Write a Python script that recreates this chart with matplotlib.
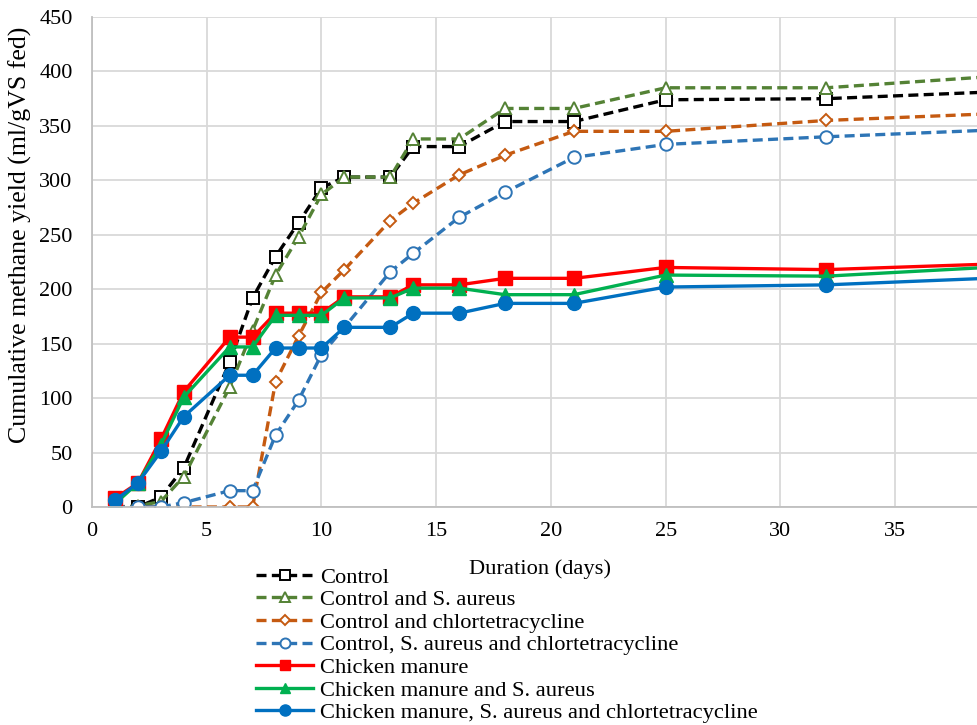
import numpy as np
import matplotlib.pyplot as plt

plt.rcParams['font.family'] = ['Liberation Serif', 'DejaVu Serif']

# Days of measurement (last point lies just past the visible edge)
days = [1, 2, 3, 4, 6, 7, 8, 9, 10, 11, 13, 14, 16, 18, 21, 25, 32, 39]

control = [0, 0, 9, 36, 133, 192, 230, 261, 293, 303, 303, 331, 331, 354, 354, 374, 375, 381]
control_sa = [0, 1, 5, 28, 110, 162, 213, 248, 287, 303, 303, 338, 338, 366, 366, 385, 385, 395]
control_ctc = [0, 0, 0, 0, 0, 0, 115, 157, 197, 218, 263, 279, 305, 323, 345, 345, 355, 361]
control_sa_ctc = [0, 0, 0, 4, 15, 15, 66, 98, 140, 165, 216, 233, 266, 289, 321, 333, 340, 346]
cm = [8, 22, 62, 106, 156, 156, 178, 178, 178, 193, 193, 204, 204, 210, 210, 220, 218, 223]
cm_sa = [3, 22, 57, 101, 147, 147, 176, 176, 176, 192, 192, 201, 201, 195, 195, 213, 212, 220]
cm_sa_ctc = [6, 22, 51, 83, 121, 121, 146, 146, 146, 165, 165, 178, 178, 187, 187, 202, 204, 210]

labels = ['Control', 'Control and S. aureus', 'Control and chlortetracycline',
          'Control, S. aureus and chlortetracycline', 'Chicken manure',
          'Chicken manure and S. aureus',
          'Chicken manure, S. aureus and chlortetracycline']

fig = plt.figure(figsize=(9.77, 7.25), dpi=100)
ax = fig.add_axes([92 / 977, 218 / 725, 885 / 977, 490 / 725])

dash = (0, (3.0, 1.6))
lw = 2.4

ax.plot(days, control, color='black', ls=dash, lw=lw, marker='s', ms=8.5,
        mfc='white', mec='black', mew=1.4, label=labels[0])
ax.plot(days, control_sa, color='#548235', ls=dash, lw=lw, marker='^', ms=9,
        mfc='white', mec='#548235', mew=1.4, label=labels[1])
ax.plot(days, control_ctc, color='#C55A11', ls=dash, lw=lw, marker='D', ms=6.5,
        mfc='white', mec='#C55A11', mew=1.4, label=labels[2])
ax.plot(days, control_sa_ctc, color='#2E75B6', ls=dash, lw=lw, marker='o', ms=9,
        mfc='white', mec='#2E75B6', mew=1.4, label=labels[3])
ax.plot(days, cm, color='#FF0000', lw=lw, marker='s', ms=9.5, label=labels[4])
ax.plot(days, cm_sa, color='#00B050', lw=lw, marker='^', ms=9.5, label=labels[5])
ax.plot(days, cm_sa_ctc, color='#0070C0', lw=lw, marker='o', ms=10, label=labels[6])

ax.set_xlim(0, 38.57)
ax.set_ylim(0, 450)
ax.set_xticks(np.arange(0, 36, 5))
ax.set_yticks(np.arange(0, 451, 50))
ax.grid(True, color='#d9d9d9', lw=1.3)
ax.set_axisbelow(True)
for s in ['top', 'right']:
    ax.spines[s].set_visible(False)
for s in ['left', 'bottom']:
    ax.spines[s].set_color('#bfbfbf')
    ax.spines[s].set_linewidth(1.3)
ax.tick_params(length=0, labelsize=16)
ax.tick_params(axis='y', pad=14)
ax.tick_params(axis='x', pad=11)

ax.set_xlabel('Duration (days)', fontsize=16.2)
ax.xaxis.set_label_coords(0.506, -0.106)
ax.set_ylabel('Cumulative methane yield (ml/gVS fed)', fontsize=18.6)
ax.yaxis.set_label_coords(-0.068, 0.555)

fig.legend(loc='upper left', bbox_to_anchor=(256 / 977, 1 - 567 / 725),
           frameon=False, fontsize=16.2, handlelength=2.55, handletextpad=0.3,
           labelspacing=0.08, borderpad=0, borderaxespad=0, markerscale=0.8)

plt.savefig('out.png', dpi=100)
